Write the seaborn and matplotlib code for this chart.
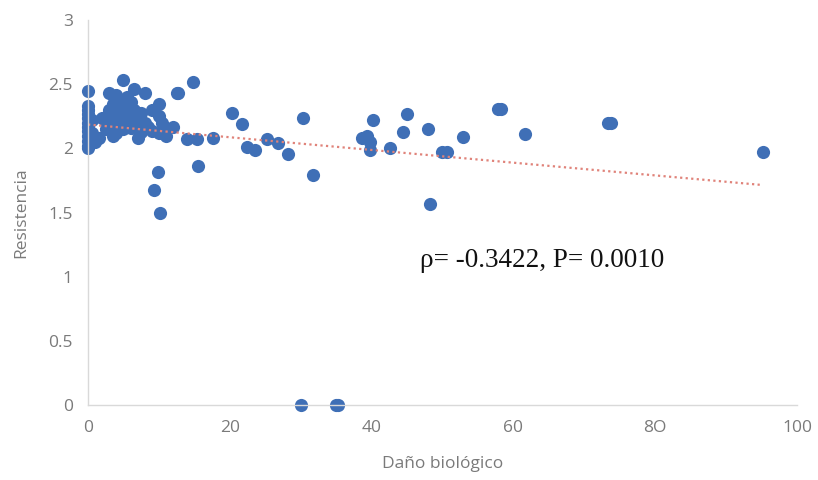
import pandas as pd
import seaborn as sns
import matplotlib.pyplot as plt

# Daño biológico (x) and Resistencia (y)
dano = [
    0, 0, 0, 0, 0, 0, 0, 0, 0, 0, 0, 0,
    0.5, 0.5, 1, 1.5, 2, 2.5, 2.5,
    3, 3, 3, 3.5, 3.5, 3.5,
    4, 4, 4, 4, 4.5, 4.5,
    5, 5, 5, 5, 5.5, 5.5,
    6, 6, 6, 6.5, 6.5,
    7, 7, 7, 7.5, 7.5, 8, 8, 8.5,
    9, 9, 10, 10, 10, 10.5, 11, 11, 12, 12.5,
    9.3, 9.9, 10.2, 12.7, 14.8, 14, 15.4, 17.6, 15.5,
    20.3, 21.7, 22.4, 23.5, 25.2, 26.8, 28.2, 30.3, 31.7,
    30, 35, 35.3,
    38.6, 39.3, 39.8, 39.8, 40.2, 42.6, 44.4, 45, 48, 48.2,
    50, 50.6, 52.9, 57.8, 58.3, 61.6, 73.3, 73.8, 95.2,
]
resistencia = [
    2.45, 2.33, 2.30, 2.27, 2.24, 2.20, 2.17, 2.14, 2.10, 2.06, 2.02, 2.00,
    2.22, 2.12, 2.05, 2.08, 2.24, 2.20, 2.15,
    2.43, 2.30, 2.15, 2.35, 2.10, 2.25,
    2.42, 2.28, 2.18, 2.12, 2.38, 2.22,
    2.53, 2.32, 2.15, 2.27, 2.40, 2.20,
    2.36, 2.25, 2.16, 2.46, 2.30,
    2.22, 2.08, 2.15, 2.28, 2.13, 2.43, 2.20, 2.17,
    2.30, 2.14, 2.35, 2.25, 2.12, 2.20, 2.15, 2.10, 2.17, 2.43,
    1.68, 1.82, 1.50, 2.43, 2.52, 2.07, 2.07, 2.08, 1.86,
    2.28, 2.19, 2.01, 1.99, 2.07, 2.04, 1.96, 2.24, 1.79,
    0.0, 0.0, 0.0,
    2.08, 2.10, 2.05, 1.99, 2.22, 2.00, 2.13, 2.27, 2.15, 1.57,
    1.97, 1.97, 2.09, 2.31, 2.31, 2.11, 2.20, 2.20, 1.97,
]
etiqueta = "ρ= -0.3422, P= 0.0010"

df = pd.DataFrame({"Daño biológico": dano, "Resistencia": resistencia})

sns.set_theme(style="white")
plt.rcParams["font.family"] = ["Open Sans", "DejaVu Sans"]

fig = plt.figure(figsize=(8.18, 4.8), dpi=100)
ax = fig.add_axes([0.1076, 0.156, 0.8667, 0.802])

blue = "#3f6fb6"
grey = "#7a7a7a"

sns.regplot(
    data=df,
    x="Daño biológico",
    y="Resistencia",
    ci=None,
    ax=ax,
    scatter_kws={"s": 90, "color": blue, "alpha": 1, "linewidths": 0},
    line_kws={"color": "#e0837a", "linestyle": (0, (1, 1.5)), "linewidth": 1.6, "zorder": 1},
)

ax.set_xlim(0, 100)
ax.set_ylim(0, 3)
ax.set_xticks([0, 20, 40, 60, 80, 100])
ax.set_xticklabels(["0", "20", "40", "60", "8O", "100"])
ax.set_yticks([0, 0.5, 1, 1.5, 2, 2.5, 3])
ax.set_yticklabels(["0", "0.5", "1", "1.5", "2", "2.5", "3"])

for side in ["top", "right"]:
    ax.spines[side].set_visible(False)
for side in ["left", "bottom"]:
    ax.spines[side].set_color("#d9d9d9")
    ax.spines[side].set_linewidth(1)

ax.tick_params(axis="both", colors="#d9d9d9", labelcolor=grey, labelsize=12.5,
               length=4, width=1, direction="out", pad=7)
ax.set_xlabel("Daño biológico", color=grey, fontsize=12.5, labelpad=14)
ax.set_ylabel("Resistencia", color=grey, fontsize=12.5, labelpad=14)

ax.text(46.8, 1.13, etiqueta, family=["Liberation Serif", "DejaVu Serif"],
        fontsize=19.5, color="#111111", ha="left", va="center")

for coll in ax.collections:
    coll.set_clip_on(False)

fig.savefig("out.png", dpi=100)
plt.close()
